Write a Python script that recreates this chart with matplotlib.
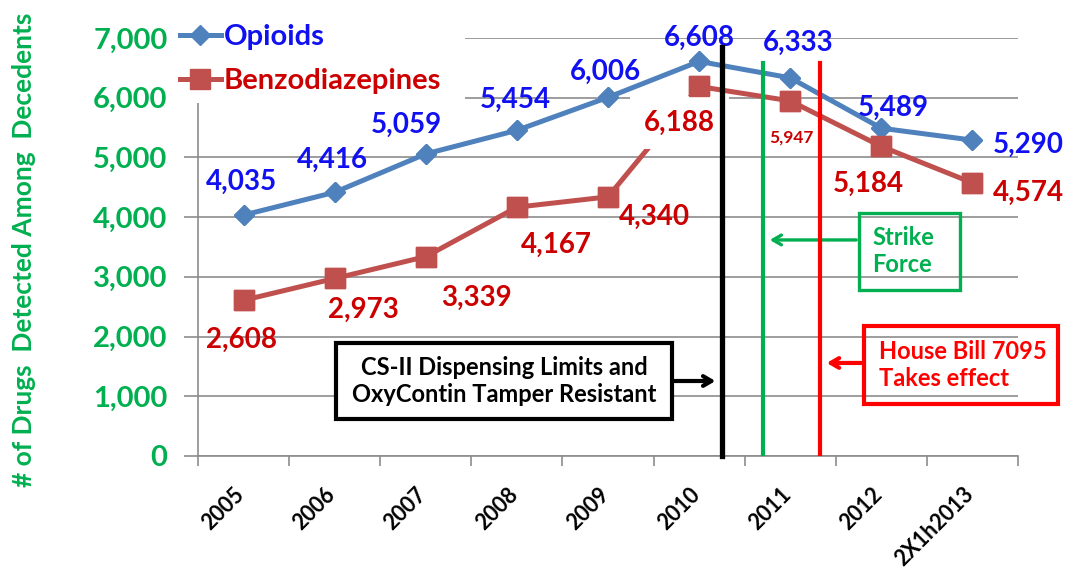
import matplotlib
matplotlib.use('Agg')
import matplotlib.pyplot as plt
import matplotlib.patches as patches
import matplotlib.transforms as mtransforms
import numpy as np

plt.rcParams['font.family'] = ['Lato', 'DejaVu Sans']
plt.rcParams['font.weight'] = 'bold'

# data
years = ['2005', '2006', '2007', '2008', '2009', '2010', '2011', '2012', '2X1h2013']
opioids = [4035, 4416, 5059, 5454, 6006, 6608, 6333, 5489, 5290]
benzos = [2608, 2973, 3339, 4167, 4340, 6188, 5947, 5184, 4574]
y_ticks = [0, 1000, 2000, 3000, 4000, 5000, 6000, 7000]

# label offsets in pixels (dx, dy up) - copied by eye from the original
opi_off = [(-2, 33), (-2, 32), (-19, 29), (-2, 30), (-3, 25), (0, 24), (8, 35), (12, 20), (56, -5)]
ben_off = [(-2, -40), (29, -31), (51, -41), (40, -38), (46, -20), (-20, -36), (1, -37), (-13, -37), (56, -10)]

BLUE = '#4f81bd'
RED = '#c0504d'
GREEN = '#00b050'
GRID = '#8c8c8c'

W, H = 1071, 577
fig = plt.figure(figsize=(W / 100, H / 100), dpi=100)
fig.patch.set_facecolor('white')
ax = fig.add_axes([198 / W, 1 - 456 / H, 820 / W, 418 / H])

x = np.arange(len(years))
ln1, = ax.plot(x, opioids, color=BLUE, lw=3.6, marker='D', ms=10.5, zorder=3)
ln2, = ax.plot(x, benzos, color=RED, lw=3.6, marker='s', ms=14, zorder=3)
# markers again on top of the label boxes
ax.plot(x, opioids, ls='none', color=BLUE, marker='D', ms=10.5, zorder=6)
ax.plot(x, benzos, ls='none', color=RED, marker='s', ms=14, zorder=6)

# data labels
for i, v in enumerate(opioids):
    ax.annotate(f'{v:,}', (x[i], v), xytext=opi_off[i], textcoords='offset pixels',
                ha='center', va='center', fontsize=20, color='#1010f0', zorder=5)
for i, v in enumerate(benzos):
    fs = 12.5 if i == 6 else 20
    bb = dict(boxstyle='square,pad=0.5', fc='white', ec='none') if i == 5 else None
    ax.annotate(f'{v:,}', (x[i], v), xytext=ben_off[i], textcoords='offset pixels',
                ha='center', va='center', fontsize=fs, color='#cc0000', zorder=5, bbox=bb)

# policy lines
ax.plot([5.252, 5.252], [0, 6851], color='black', lw=3.8, zorder=7, clip_on=False)
ax.plot([5.70, 5.70], [0, 6583], color=GREEN, lw=3.0, zorder=7)
ax.plot([6.33, 6.33], [0, 6583], color='#ff0000', lw=3.0, zorder=7)

arrow = '->,head_length=0.6,head_width=0.35'

# annotation boxes
ax.add_patch(patches.Rectangle((1.015, 620), 4.70 - 1.015, 1893 - 620, fc='white', ec='black',
                               lw=3, zorder=4))
ax.text(2.86, 1256, 'CS-II Dispensing Limits and\nOxyContin Tamper Resistant', ha='center',
        va='center', fontsize=17, color='black', linespacing=1.25, zorder=5)
ax.annotate('', xy=(5.21, 1256), xytext=(4.70, 1256),
            arrowprops=dict(arrowstyle=arrow, color='black', lw=3), zorder=5)

ax.add_patch(patches.Rectangle((6.755, 2780), 7.864 - 6.755, 4070 - 2780, fill=False, ec=GREEN,
                               lw=2.4, zorder=4))
ax.text(6.90, 3433, 'Strike\nForce', ha='left', va='center', fontsize=17, color=GREEN,
        linespacing=1.25, zorder=5)
ax.annotate('', xy=(5.745, 3618), xytext=(6.755, 3618),
            arrowprops=dict(arrowstyle=arrow, color=GREEN, lw=2.4), zorder=5)

ax.add_patch(patches.Rectangle((6.81, 871), 8.94 - 6.81, 2177 - 871, fill=False, ec='#ff0000',
                               lw=3, zorder=4, clip_on=False))
ax.text(6.97, 1524, 'House Bill 7095\nTakes effect', ha='left', va='center', fontsize=17,
        color='#ff0000', linespacing=1.25, zorder=5, clip_on=False)
ax.annotate('', xy=(6.37, 1558), xytext=(6.81, 1558),
            arrowprops=dict(arrowstyle=arrow, color='#ff0000', lw=3), zorder=5)

# axes styling
ax.set_xlim(-0.5, len(years) - 0.5)
ax.set_ylim(0, 7000)
ax.set_yticks(y_ticks)
ax.set_yticklabels([f'{t:,}' for t in y_ticks])
ax.yaxis.grid(True, color=GRID, lw=1.2)
ax.set_axisbelow(True)
for s in ['top', 'right']:
    ax.spines[s].set_visible(False)
for s in ['left', 'bottom']:
    ax.spines[s].set_color(GRID)
    ax.spines[s].set_linewidth(1.2)
ax.tick_params(axis='y', length=10, width=1.2, color=GRID, pad=12, labelcolor=GREEN, labelsize=21)

ax.set_xticks(x)
ax.set_xticklabels(years, rotation=45, ha='right', rotation_mode='anchor', fontsize=15.5)
ax.set_xticks(np.arange(-0.5, len(years), 1), minor=True)
ax.tick_params(axis='x', which='major', length=0, pad=20)
ax.tick_params(axis='x', which='minor', length=7, width=1.2, color=GRID)
shift = mtransforms.ScaledTranslation(-10 / 100, 0, fig.dpi_scale_trans)
for lbl in ax.get_xticklabels():
    lbl.set_transform(lbl.get_transform() + shift)

fig.text(24 / W, 1 - 250 / H, '# of Drugs  Detected Among  Decedents', rotation=90,
         ha='center', va='center', fontsize=19, color=GREEN)

# legend sits on a white patch that hides the top gridlines
fig.patches.append(patches.Rectangle((180 / W, 1 - 103 / H), (465 - 180) / W, 103 / H,
                                     transform=fig.transFigure, fc='white', ec='none', zorder=1))
leg = fig.legend([ln1, ln2], ['Opioids', 'Benzodiazepines'], loc='upper left',
                 bbox_to_anchor=(180 / W, 1 - 24 / H), frameon=False, fontsize=21,
                 handlelength=1.4, handletextpad=0.1, labelspacing=0.62, borderpad=0,
                 borderaxespad=0)
leg.set_zorder(5)
leg.get_texts()[0].set_color('#1010f0')
leg.get_texts()[1].set_color('#cc0000')

fig.savefig('out.png', dpi=100)
